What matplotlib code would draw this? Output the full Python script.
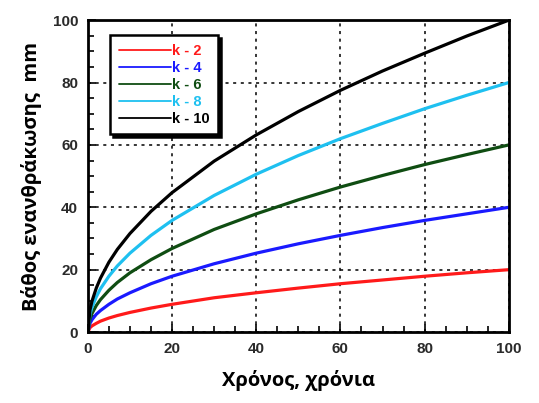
import matplotlib
matplotlib.use("Agg")
import matplotlib.pyplot as plt
from matplotlib.ticker import MultipleLocator

# time, years
t = [0, 0.5, 1, 2, 3, 5, 7, 10, 15, 20, 30, 40, 50, 60, 70, 80, 90, 100]

# carbonation depth, mm
d_k2 = [0, 1.4, 2, 2.8, 3.5, 4.5, 5.3, 6.3, 7.7, 8.9, 11, 12.6, 14.1, 15.5, 16.7, 17.9, 19, 20]
d_k4 = [0, 2.8, 4, 5.7, 6.9, 8.9, 10.6, 12.6, 15.5, 17.9, 21.9, 25.3, 28.3, 31, 33.5, 35.8, 37.9, 40]
d_k6 = [0, 4.2, 6, 8.5, 10.4, 13.4, 15.9, 19, 23.2, 26.8, 32.9, 37.9, 42.4, 46.5, 50.2, 53.7, 56.9, 60]
d_k8 = [0, 5.7, 8, 11.3, 13.9, 17.9, 21.2, 25.3, 31, 35.8, 43.8, 50.6, 56.6, 62, 66.9, 71.6, 75.9, 80]
d_k10 = [0, 7.1, 10, 14.1, 17.3, 22.4, 26.5, 31.6, 38.7, 44.7, 54.8, 63.2, 70.7, 77.5, 83.7, 89.4, 94.9, 100]

labels = ["k - 2", "k - 4", "k - 6", "k - 8", "k - 10"]
colors = ["#ff1a1a", "#1a1aff", "#0f4d12", "#1ec0f0", "#000000"]
series = [d_k2, d_k4, d_k6, d_k8, d_k10]

fig, ax = plt.subplots(figsize=(5.39, 4.03), dpi=100)
fig.subplots_adjust(left=0.163, right=0.944, bottom=0.176, top=0.950)

for d, c, lab in zip(series, colors, labels):
    ax.plot(t, d, color=c, lw=2.3, label=lab, solid_capstyle="round")

ax.set_xlim(0, 100)
ax.set_ylim(0, 100)
ax.xaxis.set_major_locator(MultipleLocator(20))
ax.yaxis.set_major_locator(MultipleLocator(20))
ax.xaxis.set_minor_locator(MultipleLocator(5))
ax.yaxis.set_minor_locator(MultipleLocator(5))
ax.tick_params(which="both", direction="in", width=1.2, colors="k")
ax.tick_params(which="major", length=6, pad=7)
ax.tick_params(which="minor", length=4)
for lab in ax.get_xticklabels() + ax.get_yticklabels():
    lab.set_fontfamily("Liberation Sans")
    lab.set_fontweight("bold")
    lab.set_fontsize(11)
    lab.set_color("#2a2a2a")

ax.grid(True, which="major", color="k", lw=1.1, linestyle=(0, (2, 3)))
for s in ax.spines.values():
    s.set_linewidth(2)

ax.set_xlabel("Χρόνος, χρόνια", fontfamily="Open Sans", fontweight="bold",
              fontsize=14.5, labelpad=10)
ax.set_ylabel("Βάθος ενανθράκωσης  mm", fontfamily="Open Sans", fontweight="bold",
              fontsize=14.5, labelpad=8)

leg = ax.legend(loc="upper left", bbox_to_anchor=(0.035, 0.975), handlelength=3.6,
                handletextpad=0.05, labelspacing=0.2, borderpad=0.6,
                fancybox=False, framealpha=1, edgecolor="k", labelcolor="linecolor",
                prop={"family": "Liberation Sans", "weight": "bold", "size": 10.5},
                shadow={"color": "k", "alpha": 1})
leg.get_frame().set_linewidth(1.8)
for h in leg.get_lines():
    h.set_linewidth(1.3)

fig.savefig("out.png", dpi=100)
